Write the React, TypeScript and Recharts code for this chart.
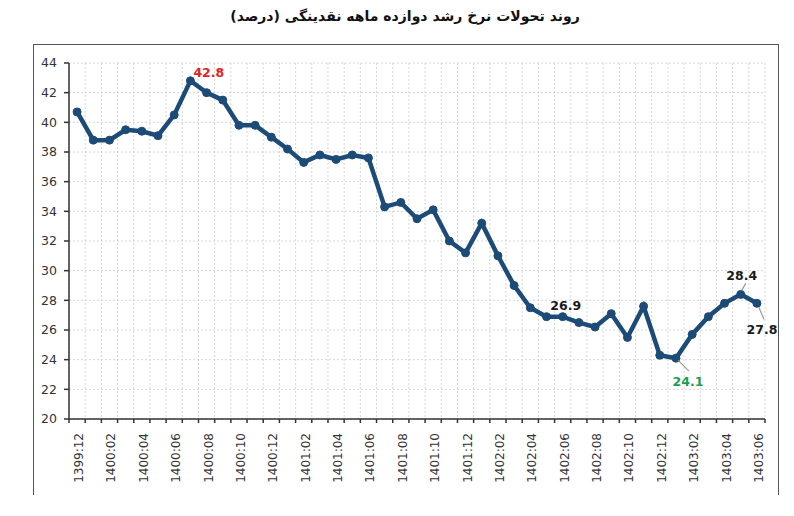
import { LineChart, Line, XAxis, YAxis, CartesianGrid, LabelList } from "recharts";

// months shown on the x axis (every other one gets a label)
const months = [
  "1399:12",
  "1400:01", "1400:02", "1400:03", "1400:04", "1400:05", "1400:06",
  "1400:07", "1400:08", "1400:09", "1400:10", "1400:11", "1400:12",
  "1401:01", "1401:02", "1401:03", "1401:04", "1401:05", "1401:06",
  "1401:07", "1401:08", "1401:09", "1401:10", "1401:11", "1401:12",
  "1402:01", "1402:02", "1402:03", "1402:04", "1402:05", "1402:06",
  "1402:07", "1402:08", "1402:09", "1402:10", "1402:11", "1402:12",
  "1403:01", "1403:02", "1403:03", "1403:04", "1403:05", "1403:06",
];

// twelve-month liquidity growth rate (%)
const growth = [
  40.7,
  38.8, 38.8, 39.5, 39.4, 39.1, 40.5,
  42.8, 42.0, 41.5, 39.8, 39.8, 39.0,
  38.2, 37.3, 37.8, 37.5, 37.8, 37.6,
  34.3, 34.6, 33.5, 34.1, 32.0, 31.2,
  33.2, 31.0, 29.0, 27.5, 26.9, 26.9,
  26.5, 26.2, 27.1, 25.5, 27.6, 24.3,
  24.1, 25.7, 26.9, 27.8, 28.4, 27.8,
];

const yTicks = [20, 22, 24, 26, 28, 30, 32, 34, 36, 38, 40, 42, 44];

// indexes of the points that carry a value label
const labelled = [7, 30, 37, 41, 42];

const TITLE = "روند تحولات نرخ رشد دوازده ماهه نقدینگی (درصد)";

const data = months.map((m, i) => ({ idx: i, month: m, value: growth[i] }));
const boundaries = months.map((_, i) => i - 0.5).concat(months.length - 0.5);

const W = 794;
const H = 516;
const MARGIN = { top: 63, right: 29, bottom: 37, left: 33 };
const Y_AXIS_W = 36;
const STEP = (W - MARGIN.left - MARGIN.right - Y_AXIS_W) / months.length;
const FONT = "'DejaVu Sans', Verdana, sans-serif";
const LINE_COLOR = "#1d4b77";

const ANNOT: Record<number, { color: string; dx: number; dy: number; anchor: string; leader?: number[] }> = {
  7: { color: "#e32222", dx: 3, dy: -8, anchor: "start" },
  30: { color: "#1a1a1a", dx: 3, dy: -11, anchor: "middle" },
  37: { color: "#1f9e4f", dx: 12, dy: 23, anchor: "middle", leader: [2, 2, 13, 13] },
  41: { color: "#1a1a1a", dx: 1, dy: -19, anchor: "middle", leader: [1, -4, 5, -11] },
  42: { color: "#1a1a1a", dx: 5, dy: 26, anchor: "middle", leader: [2, 4, 7, 16] },
};

function MonthTick(props: any) {
  const { x, y, payload } = props;
  const k = Math.round(payload.value + 0.5);
  if (k % 2 !== 0 || k >= months.length) return null;
  const cx = x + STEP / 2 + 2;
  const ty = y + 8;
  return (
    <text
      x={cx}
      y={ty}
      transform={`rotate(-90, ${cx}, ${ty})`}
      textAnchor="end"
      dominantBaseline="central"
      fontSize={12}
      fontFamily={FONT}
      fill="#333"
    >
      {months[k]}
    </text>
  );
}

function PointLabel(props: any) {
  const { x, y, value, index } = props;
  if (!labelled.includes(index)) return null;
  const a = ANNOT[index];
  return (
    <g>
      {a.leader && (
        <line
          x1={x + a.leader[0]}
          y1={y + a.leader[1]}
          x2={x + a.leader[2]}
          y2={y + a.leader[3]}
          stroke="#999"
          strokeWidth={1.2}
        />
      )}
      <text
        x={x + a.dx}
        y={y + a.dy}
        textAnchor={a.anchor}
        dominantBaseline="central"
        fontSize={12.5}
        fontWeight="bold"
        fontFamily={FONT}
        fill={a.color}
      >
        {Number(value).toFixed(1)}
      </text>
    </g>
  );
}

export default function App() {
  return (
    <div style={{ position: "absolute", left: 0, top: 0, width: W, height: H, background: "#fff" }}>
      <div
        style={{
          position: "absolute",
          top: 8,
          left: 0,
          width: W,
          textAlign: "center",
          fontFamily: FONT,
          fontWeight: "bold",
          fontSize: 14,
          color: "#111",
          direction: "rtl",
          paddingLeft: 16,
          boxSizing: "border-box",
        }}
      >
        {TITLE}
      </div>
      {/* frame round the plot, open at the bottom */}
      <div
        style={{
          position: "absolute",
          left: 33,
          top: 44,
          width: 744,
          height: 450,
          borderLeft: "1.5px solid #555",
          borderTop: "1.5px solid #555",
          borderRight: "1.5px solid #555",
        }}
      />
      <div style={{ position: "absolute", left: 0, top: 0 }}>
        <LineChart width={W} height={H} data={data} margin={MARGIN}>
          <CartesianGrid stroke="#d6d6d6" strokeDasharray="2 2" />
          <XAxis
            type="number"
            dataKey="idx"
            domain={[-0.5, months.length - 0.5]}
            ticks={boundaries}
            interval={0}
            height={60}
            tickSize={4}
            stroke="#333"
            strokeWidth={1.5}
            tick={<MonthTick />}
          />
          <YAxis
            domain={[20, 44]}
            ticks={yTicks}
            interval={0}
            width={Y_AXIS_W}
            tickSize={5}
            tickMargin={7}
            stroke="#333"
            strokeWidth={1.5}
            tick={{ fontSize: 12.5, fontFamily: FONT, fill: "#333" }}
          />
          <Line
            type="linear"
            dataKey="value"
            stroke={LINE_COLOR}
            strokeWidth={4.5}
            dot={{ r: 4, fill: LINE_COLOR, stroke: LINE_COLOR, strokeWidth: 1 }}
            isAnimationActive={false}
          >
            <LabelList dataKey="value" content={<PointLabel />} />
          </Line>
        </LineChart>
      </div>
    </div>
  );
}
